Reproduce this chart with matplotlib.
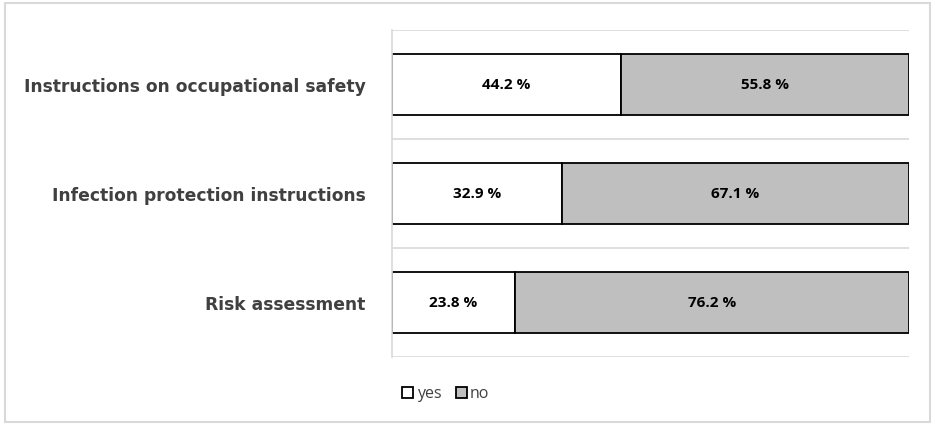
import numpy as np
import matplotlib.pyplot as plt
from matplotlib.patches import Rectangle

categories = ['Risk assessment', 'Infection protection instructions',
              'Instructions on occupational safety']
yes_vals = [23.8, 32.9, 44.2]
no_vals = [76.2, 67.1, 55.8]
series_names = ['yes', 'no']

fig = plt.figure(figsize=(9.35, 4.25), dpi=100)
ax = fig.add_axes([0.4193, 0.16, 0.9722 - 0.4193, 0.9294 - 0.16])

# outer frame of the picture
fig.patches.append(Rectangle((0.005, 0.007), 0.99, 0.986, transform=fig.transFigure,
                             fill=False, edgecolor='#d9d9d9', linewidth=1.5))

y = np.arange(len(categories))
h = 0.56
b1 = ax.barh(y, yes_vals, height=h, color='white', edgecolor='black',
             linewidth=1.3, label=series_names[0])
b2 = ax.barh(y, no_vals, left=yes_vals, height=h, color='#bfbfbf',
             edgecolor='black', linewidth=1.3, label=series_names[1])

for bars in (b1, b2):
    ax.bar_label(bars, labels=[f'{v:.1f} %' for v in bars.datavalues],
                 label_type='center', fontsize=11, fontweight='bold',
                 color='black', fontfamily='Open Sans')

ax.set_xlim(0, 100)
ax.set_ylim(-0.5, len(categories) - 0.5)
for g in np.arange(-0.5, len(categories), 1.0):
    ax.axhline(g, color='#d9d9d9', linewidth=1.2, zorder=0)

ax.set_yticks(y)
ax.set_yticklabels(categories, fontsize=12.3, fontweight='bold', color='#404040',
                   fontfamily='DejaVu Sans')
ax.tick_params(axis='y', length=0, pad=19)
ax.set_xticks([])
for s in ['top', 'right', 'bottom']:
    ax.spines[s].set_visible(False)
ax.spines['left'].set_color('#d9d9d9')
ax.spines['left'].set_linewidth(1.2)

ax.legend(loc='upper left', bbox_to_anchor=(-0.008, -0.045), ncol=2, frameon=False,
          handlelength=0.7, handleheight=0.7, handletextpad=0.2, columnspacing=0.9,
          prop={'family': 'Open Sans', 'size': 11.5}, labelcolor='#404040')

fig.savefig('out.png', dpi=100)
